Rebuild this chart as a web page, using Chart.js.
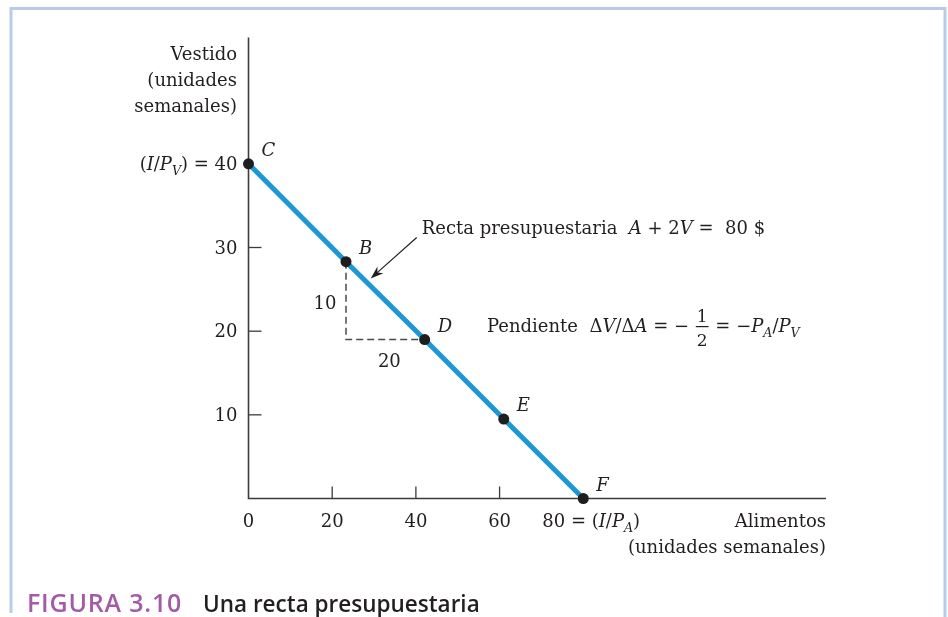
<!DOCTYPE html>
<html>
<head>
<meta charset="utf-8">
<script src="https://cdn.jsdelivr.net/npm/chart.js@4.4.1/dist/chart.umd.min.js"></script>
<style>
  html, body { margin: 0; padding: 0; background: #fff; }
  #wrap { width: 948px; height: 617px; }
</style>
</head>
<body>
<div id="wrap"><canvas id="budget-canvas" width="948" height="617"></canvas></div>
<script>
// cestas sobre la recta presupuestaria A + 2V = 80
var puntos = ["C", "B", "D", "E", "F"];
var alimentos = [0, 23.3, 42.1, 61.0, 80];
var vestido = [40, 28.3, 19.0, 9.5, 0];

// marcas de los ejes
var ticksX = [20, 40, 60];
var ticksY = [10, 20, 30];

var INK = "#231f20";
var SERIF = "'DejaVu Serif', serif";
var FS = 18;

function fnt(italic, size) {
    return (italic ? "italic " : "") + size + "px " + SERIF;
}

// parts: [texto, estilo] ; estilo n = normal, i = cursiva, si = subindice cursiva, f = fraccion
function partWidth(ctx, p, size) {
    if (p[1] === "f") {
        ctx.font = fnt(false, size - 1);
        return Math.max(ctx.measureText(p[0][0]).width, ctx.measureText(p[0][1]).width) + 4;
    }
    var s = p[1] === "si" ? size * 0.7 : size;
    ctx.font = fnt(p[1] !== "n", s);
    return ctx.measureText(p[0]).width;
}

function drawRich(ctx, parts, x, y, size, align) {
    var w = 0;
    parts.forEach(function(p){ w += partWidth(ctx, p, size); });
    var cx = align === "right" ? x - w : x;
    ctx.textAlign = "left";
    ctx.textBaseline = "alphabetic";
    ctx.fillStyle = INK;
    parts.forEach(function(p){
        var pw = partWidth(ctx, p, size);
        if (p[1] === "f") {
            ctx.font = fnt(false, size - 1);
            ctx.textAlign = "center";
            ctx.fillText(p[0][0], cx + pw / 2, y - 10);
            ctx.fillText(p[0][1], cx + pw / 2, y + 14);
            ctx.textAlign = "left";
            ctx.fillRect(cx + 1, y - 6, pw - 2, 1.2);
        } else {
            var s = p[1] === "si" ? size * 0.7 : size;
            ctx.font = fnt(p[1] !== "n", s);
            ctx.fillText(p[0], cx, y + (p[1] === "si" ? 5 : 0));
        }
        cx += pw;
    });
}

var marco = {
    id: "marco",
    beforeDatasetsDraw: function(chart) {
        var ctx = chart.ctx;
        var xs = chart.scales.x, ys = chart.scales.y;
        var x0 = xs.getPixelForValue(0), y0 = ys.getPixelForValue(0);
        ctx.save();

        // marco azul claro
        ctx.strokeStyle = "#b9cbea";
        ctx.lineWidth = 3;
        ctx.beginPath();
        ctx.moveTo(11, 613);
        ctx.lineTo(11, 8.5);
        ctx.lineTo(945, 8.5);
        ctx.lineTo(945, 617);
        ctx.stroke();

        // ejes
        ctx.strokeStyle = "#3c3c3c";
        ctx.lineWidth = 1.6;
        ctx.beginPath();
        ctx.moveTo(x0, chart.chartArea.top);
        ctx.lineTo(x0, y0);
        ctx.lineTo(chart.chartArea.right, y0);
        ctx.stroke();

        ctx.lineWidth = 1.3;
        ticksY.forEach(function(v){
            var py = ys.getPixelForValue(v);
            ctx.beginPath(); ctx.moveTo(x0, py); ctx.lineTo(x0 + 13, py); ctx.stroke();
        });
        ticksX.forEach(function(v){
            var px = xs.getPixelForValue(v);
            ctx.beginPath(); ctx.moveTo(px, y0); ctx.lineTo(px, y0 - 12); ctx.stroke();
        });

        // triangulo B-D
        var bx = xs.getPixelForValue(alimentos[1]), by = ys.getPixelForValue(vestido[1]);
        var dx = xs.getPixelForValue(alimentos[2]), dy = ys.getPixelForValue(vestido[2]);
        ctx.strokeStyle = "#4a4a4a";
        ctx.lineWidth = 1.5;
        ctx.setLineDash([7, 4]);
        ctx.beginPath();
        ctx.moveTo(bx, by);
        ctx.lineTo(bx, dy);
        ctx.lineTo(dx, dy);
        ctx.stroke();
        ctx.setLineDash([]);
        ctx.restore();
    },
    afterDatasetsDraw: function(chart) {
        var ctx = chart.ctx;
        var xs = chart.scales.x, ys = chart.scales.y;
        var x0 = xs.getPixelForValue(0), y0 = ys.getPixelForValue(0);
        ctx.save();
        ctx.fillStyle = INK;

        // titulo eje vertical
        ctx.font = fnt(false, FS);
        ctx.textAlign = "right";
        ctx.fillText("Vestido", 237, 60);
        ctx.fillText("(unidades", 237, 86);
        ctx.fillText("semanales)", 237, 112);

        // etiquetas eje vertical
        ticksY.forEach(function(v){
            ctx.font = fnt(false, FS);
            ctx.textAlign = "right";
            ctx.fillText(String(v), x0 - 11, ys.getPixelForValue(v) + 6);
        });
        drawRich(ctx, [["(", "n"], ["I", "i"], ["/", "n"], ["P", "i"], ["V", "si"], [") = 40", "n"]],
            x0 - 11, ys.getPixelForValue(vestido[0]) + 6, FS, "right");

        // etiquetas eje horizontal
        ctx.font = fnt(false, FS);
        ctx.textAlign = "center";
        ctx.fillText("0", x0, y0 + 28);
        ticksX.forEach(function(v){
            ctx.fillText(String(v), xs.getPixelForValue(v), y0 + 28);
        });
        drawRich(ctx, [["80 = (", "n"], ["I", "i"], ["/", "n"], ["P", "i"], ["A", "si"], [")", "n"]],
            xs.getPixelForValue(alimentos[4]) - 41, y0 + 28, FS, "left");

        ctx.font = fnt(false, FS);
        ctx.textAlign = "right";
        ctx.fillText("Alimentos", chart.chartArea.right, y0 + 28);
        ctx.fillText("(unidades semanales)", chart.chartArea.right, y0 + 54);

        // nombres de las cestas
        ctx.font = fnt(true, FS);
        ctx.textAlign = "left";
        puntos.forEach(function(n, i){
            ctx.fillText(n, xs.getPixelForValue(alimentos[i]) + 13, ys.getPixelForValue(vestido[i]) - 8);
        });

        // 10 y 20 del triangulo
        var bx = xs.getPixelForValue(alimentos[1]), by = ys.getPixelForValue(vestido[1]);
        var dx = xs.getPixelForValue(alimentos[2]), dy = ys.getPixelForValue(vestido[2]);
        ctx.font = fnt(false, FS);
        ctx.textAlign = "center";
        ctx.fillText("10", bx - 21, (by + dy) / 2 + 8);
        ctx.fillText("20", (bx + dx) / 2 + 4, dy + 27);

        // flecha hacia la recta
        var tx = xs.getPixelForValue(40.2), ty = ys.getPixelForValue(31.2);
        var hx = xs.getPixelForValue(29.2), hy = ys.getPixelForValue(26.3);
        var ang = Math.atan2(hy - ty, hx - tx);
        ctx.strokeStyle = INK;
        ctx.lineWidth = 1.2;
        ctx.beginPath(); ctx.moveTo(tx, ty); ctx.lineTo(hx - 8 * Math.cos(ang), hy - 8 * Math.sin(ang)); ctx.stroke();
        ctx.beginPath();
        ctx.moveTo(hx, hy);
        ctx.lineTo(hx - 13 * Math.cos(ang) + 4.5 * Math.sin(ang), hy - 13 * Math.sin(ang) - 4.5 * Math.cos(ang));
        ctx.lineTo(hx - 9 * Math.cos(ang), hy - 9 * Math.sin(ang));
        ctx.lineTo(hx - 13 * Math.cos(ang) - 4.5 * Math.sin(ang), hy - 13 * Math.sin(ang) + 4.5 * Math.cos(ang));
        ctx.closePath();
        ctx.fill();

        drawRich(ctx, [["Recta presupuestaria  ", "n"], ["A", "i"], [" + 2", "n"], ["V", "i"], [" =  80 $", "n"]],
            tx + 5, ty - 3, FS, "left");

        drawRich(ctx, [["Pendiente  \u0394", "n"], ["V", "i"], ["/\u0394", "n"], ["A", "i"], [" = \u2212 ", "n"],
            [["1", "2"], "f"], [" = \u2212", "n"], ["P", "i"], ["A", "si"], ["/", "n"], ["P", "i"], ["V", "si"]],
            487, 332, FS, "left");

        // pie de figura
        ctx.textAlign = "left";
        ctx.font = "600 25px 'Open Sans', sans-serif";
        ctx.fillStyle = "#a35ba8";
        ctx.letterSpacing = "0.8px";
        ctx.fillText("FIGURA 3.10", 27, 612);
        ctx.letterSpacing = "0px";
        ctx.font = "600 22.5px 'Open Sans', sans-serif";
        ctx.fillStyle = INK;
        ctx.fillText("Una recta presupuestaria", 203, 612);
        ctx.restore();
    }
};

var datosRecta = alimentos.map(function(a, i){ return { x: a, y: vestido[i] }; });

var chart1 = new Chart(document.getElementById("budget-canvas"), {
    type: "scatter",
    data: {
        datasets: [{
            label: "Recta presupuestaria",
            data: datosRecta,
            showLine: true,
            borderColor: "#1b98d5",
            borderWidth: 5,
            pointRadius: 5.5,
            pointHoverRadius: 5.5,
            pointBackgroundColor: "#1e1e1e",
            pointBorderWidth: 0,
            clip: false
        }]
    },
    options: {
        responsive: false,
        devicePixelRatio: 1,
        animation: false,
        events: [],
        layout: { padding: { left: 248.5, right: 122, top: 37.5, bottom: 118.5 } },
        plugins: { legend: { display: false }, tooltip: { enabled: false } },
        scales: {
            x: { type: "linear", min: 0, max: 138, display: false },
            y: { type: "linear", min: 0, max: 55.1, display: false }
        }
    },
    plugins: [marco]
});
</script>
</body>
</html>
